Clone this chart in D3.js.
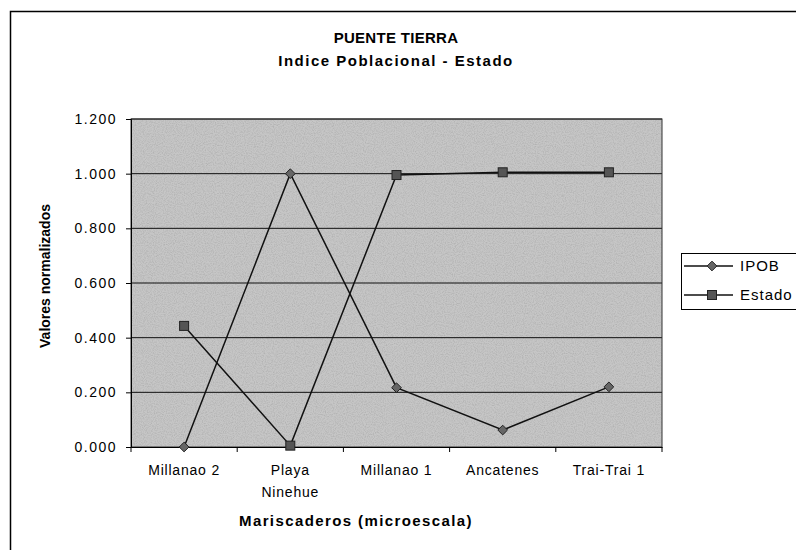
<!DOCTYPE html>
<html><head><meta charset="utf-8">
<script src="https://cdn.jsdelivr.net/npm/d3@7"></script>
<style>
body{margin:0;background:#fff;}
svg{display:block;font-family:"Liberation Sans",Arial,sans-serif;}
</style></head>
<body><svg id="c" width="796" height="550"></svg>
<script>
const categories = [["Millanao 2"],["Playa","Ninehue"],["Millanao 1"],["Ancatenes"],["Trai-Trai 1"]];
const catKeys = ["Millanao 2","Playa Ninehue","Millanao 1","Ancatenes","Trai-Trai 1"];
const ipob = [0.000, 1.000, 0.217, 0.062, 0.220];
const estado = [0.443, 0.005, 0.995, 1.005, 1.005];
const yTicks = [0, 0.2, 0.4, 0.6, 0.8, 1.0, 1.2];
const seriesNames = ["IPOB","Estado"];

const svg = d3.select("#c");
const L=131, T=119, R=662, B=447;

// outer border
svg.append("rect").attr("x",10.5).attr("y",11.5).attr("width",800).attr("height",560)
  .attr("fill","#fff").attr("stroke","#000").attr("stroke-width",1.5);

// noise pattern
const defs = svg.append("defs");
const f = defs.append("filter").attr("id","noise").attr("x",0).attr("y",0).attr("width","100%").attr("height","100%");
f.append("feTurbulence").attr("type","fractalNoise").attr("baseFrequency",0.9).attr("numOctaves",2).attr("seed",3).attr("result","t");
f.append("feColorMatrix").attr("in","t").attr("type","matrix")
  .attr("values","0 0 0 0 0.45  0 0 0 0 0.45  0 0 0 0 0.45  0 0 0 2.2 -0.85").attr("result","n");
f.append("feComposite").attr("in","n").attr("in2","SourceGraphic").attr("operator","in");

const x = d3.scaleBand().domain(catKeys).range([L,R]);
const y = d3.scaleLinear().domain([0,1.2]).range([B,T]);

svg.append("rect").attr("x",L).attr("y",T).attr("width",R-L).attr("height",B-T).attr("fill","#c6c6c6");
svg.append("rect").attr("x",L).attr("y",T).attr("width",R-L).attr("height",B-T).attr("fill","#c6c6c6").attr("filter","url(#noise)");

// gridlines
svg.append("g").selectAll("line").data(yTicks.filter(d=>d>0)).join("line")
  .attr("x1",L).attr("x2",R).attr("y1",d=>y(d)).attr("y2",d=>y(d))
  .attr("stroke","#111").attr("stroke-width",1);
svg.append("rect").attr("x",L).attr("y",T).attr("width",R-L).attr("height",B-T)
  .attr("fill","none").attr("stroke","#333").attr("stroke-width",1);

// y axis
const ya = svg.append("g").attr("transform",`translate(${L},0)`)
  .call(d3.axisLeft(y).tickValues(yTicks).tickSize(5).tickPadding(9).tickFormat(d3.format(".3f")));
ya.select(".domain").attr("stroke","#000");
ya.selectAll("text").attr("font-size",14).attr("fill","#000").attr("letter-spacing",1.5)
  .attr("font-family","Liberation Sans, Arial");

// x axis
const xa = svg.append("g").attr("transform",`translate(0,${B})`)
  .call(d3.axisBottom(x).tickValues([]).tickSize(0));
xa.select(".domain").attr("stroke","#000");
svg.append("g").selectAll("line").data(d3.range(catKeys.length+1)).join("line")
  .attr("x1",i=>L+i*x.step()).attr("x2",i=>L+i*x.step()).attr("y1",B).attr("y2",B+5).attr("stroke","#000");
const xl = svg.append("g");
categories.forEach((lines,i)=>{
  const t = xl.append("text").attr("x",x(catKeys[i])+x.bandwidth()/2).attr("y",B+28)
    .attr("text-anchor","middle").attr("font-size",14).attr("letter-spacing",0.8);
  lines.forEach((s,j)=>t.append("tspan").attr("x",x(catKeys[i])+x.bandwidth()/2).attr("dy",j?22:0).text(s));
});

const cx = k=>x(k)+x.bandwidth()/2;
const line = d3.line().x((d,i)=>cx(catKeys[i])).y(d=>y(d));
svg.append("path").attr("d",line(ipob)).attr("fill","none").attr("stroke","#111").attr("stroke-width",1.5);
svg.append("path").attr("d",line(estado)).attr("fill","none").attr("stroke","#111").attr("stroke-width",1.5);

const diamond = d3.symbol().type(d3.symbolDiamond2).size(60);
svg.append("g").selectAll("path").data(ipob).join("path")
  .attr("d",diamond).attr("transform",(d,i)=>`translate(${cx(catKeys[i])},${y(d)})`)
  .attr("fill","#666").attr("stroke","#222").attr("stroke-width",1);
svg.append("g").selectAll("rect").data(estado).join("rect")
  .attr("x",(d,i)=>cx(catKeys[i])-4.5).attr("y",d=>y(d)-4.5).attr("width",9).attr("height",9)
  .attr("fill","#555").attr("stroke","#222").attr("stroke-width",1);

// titles
svg.append("text").attr("x",396).attr("y",43).attr("text-anchor","middle").attr("font-size",15).attr("font-weight","bold").attr("letter-spacing",0.3).text("PUENTE TIERRA");
svg.append("text").attr("x",396).attr("y",66).attr("text-anchor","middle").attr("font-size",15).attr("font-weight","bold").attr("letter-spacing",1.5).text("Indice Poblacional - Estado");
svg.append("text").attr("transform","translate(50,276) rotate(-90)").attr("text-anchor","middle").attr("font-size",14).attr("font-weight","bold").text("Valores normalizados");
svg.append("text").attr("x",356).attr("y",526).attr("text-anchor","middle").attr("font-size",15).attr("font-weight","bold").attr("letter-spacing",1.4).text("Mariscaderos (microescala)");

// legend
const lg = svg.append("g");
lg.append("rect").attr("x",681.5).attr("y",253.5).attr("width",130).attr("height",56).attr("fill","#fff").attr("stroke","#000");
seriesNames.forEach((s,i)=>{
  const yy = 266 + i*29;
  lg.append("line").attr("x1",684).attr("x2",733).attr("y1",yy).attr("y2",yy).attr("stroke","#111").attr("stroke-width",1.5);
  if(i===0) lg.append("path").attr("d",diamond).attr("transform",`translate(712,${yy})`).attr("fill","#666").attr("stroke","#222");
  else lg.append("rect").attr("x",707.5).attr("y",yy-4.5).attr("width",9).attr("height",9).attr("fill","#555").attr("stroke","#222");
  lg.append("text").attr("x",740).attr("y",yy+5).attr("font-size",15).attr("letter-spacing",1).text(s);
});
</script></body></html>
